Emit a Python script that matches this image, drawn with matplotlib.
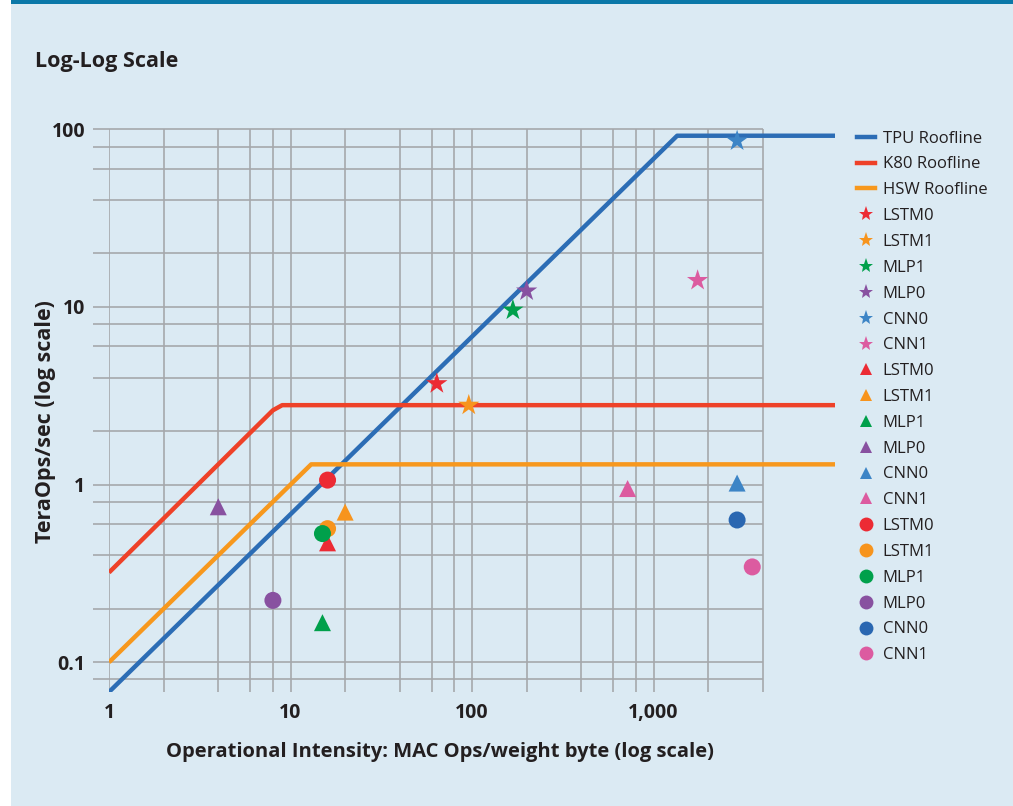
import matplotlib.pyplot as plt
from matplotlib.lines import Line2D
from matplotlib.patches import Rectangle

plt.rcParams["font.family"] = ["Open Sans", "DejaVu Sans"]

# Roofline models (peak TeraOps/sec vs operational intensity)
tpu_roof_x = [1, 1350, 10000]
tpu_roof_y = [0.068, 92, 92]
k80_roof_x = [1, 8, 9, 10000]
k80_roof_y = [0.32, 2.62, 2.8, 2.8]
hsw_roof_x = [1, 13, 10000]
hsw_roof_y = [0.1, 1.3, 1.3]

# Workloads, in legend order
apps = ["LSTM0", "LSTM1", "MLP1", "MLP0", "CNN0", "CNN1"]

# TPU (stars)
tpu_x = [64, 96, 168, 200, 2888, 1750]
tpu_y = [3.7, 2.8, 9.6, 12.3, 86.0, 14.1]
tpu_colors = ["#ec2b34", "#f7941d", "#00a04b", "#8851a0", "#3d85c6", "#dc5ba0"]

# K80 GPU (triangles)
k80_x = [16, 20, 15, 4, 2888, 720]
k80_y = [0.47, 0.70, 0.167, 0.75, 1.02, 0.95]
k80_colors = ["#ec2b34", "#f7941d", "#00a04b", "#8851a0", "#3d85c6", "#dc5ba0"]

# Haswell CPU (circles)
hsw_x = [16, 16, 15, 8, 2888, 3500]
hsw_y = [1.06, 0.565, 0.53, 0.223, 0.632, 0.344]
hsw_colors = ["#ec2b34", "#f7941d", "#00a04b", "#8851a0", "#2a67b1", "#dc5ba0"]

x_ticks = [1, 10, 100, 1000]
x_tick_labels = ["1", "10", "100", "1,000"]
y_ticks = [0.1, 1, 10, 100]
y_tick_labels = ["0.1", "1", "10", "100"]

bg = "#dbeaf3"
grid_c = "#a5a8ab"
ink = "#231f20"

fig = plt.figure(figsize=(10.13, 8.06), dpi=100)
fig.patch.set_facecolor("white")
fig.patches.append(Rectangle((11 / 1013, 0), 1 - 11 / 1013, 1, transform=fig.transFigure,
                             facecolor=bg, edgecolor="none", zorder=-10))
fig.patches.append(Rectangle((11 / 1013, 1 - 4 / 806), 1 - 11 / 1013, 4 / 806,
                             transform=fig.transFigure, facecolor="#0a78a8",
                             edgecolor="none", zorder=-9))

ax = fig.add_axes([109 / 1013, 114 / 806, 726 / 1013, (692 - 129.3) / 806])
ax.set_facecolor("none")
ax.set_xscale("log")
ax.set_yscale("log")
ax.set_xlim(1, 10000)
ax.set_ylim(0.068, 100)
for s in ax.spines.values():
    s.set_visible(False)

# grid only covers 1..4000, horizontal rules poke out to the left
vgrid = [1, 2, 4, 6, 8, 10, 20, 40, 60, 80, 100, 200, 400, 600, 800, 1000, 2000, 4000]
hgrid = [0.08, 0.1, 0.2, 0.4, 0.6, 0.8, 1, 2, 4, 6, 8, 10, 20, 40, 60, 80, 100]
ax.vlines(vgrid, 0.068, 100, color=grid_c, lw=1.2, zorder=1)
ax.hlines(hgrid, 0.815, 4000, color=grid_c, lw=1.2, zorder=1, clip_on=False)

ax.plot(tpu_roof_x, tpu_roof_y, color="#2c6db5", lw=3.2, zorder=3, solid_capstyle="butt")
ax.plot(k80_roof_x, k80_roof_y, color="#ee4128", lw=3.2, zorder=3, solid_capstyle="butt")
ax.plot(hsw_roof_x, hsw_roof_y, color="#f7981d", lw=3.2, zorder=3, solid_capstyle="butt")

ax.scatter(tpu_x, tpu_y, marker="*", s=260, c=tpu_colors, linewidths=0, zorder=4)
ax.scatter(k80_x, k80_y, marker="^", s=150, c=k80_colors, linewidths=0, zorder=4)
ax.scatter(hsw_x, hsw_y, marker="o", s=150, c=hsw_colors, linewidths=0, zorder=4)

ax.set_xticks(x_ticks)
ax.set_xticklabels(x_tick_labels)
ax.set_yticks(y_ticks)
ax.set_yticklabels(y_tick_labels)
ax.minorticks_off()
ax.tick_params(length=0, labelsize=14, colors=ink)
ax.tick_params(axis="x", pad=8)
ax.tick_params(axis="y", pad=17)
for lbl in ax.get_xticklabels() + ax.get_yticklabels():
    lbl.set_fontweight("bold")

ax.set_xlabel("Operational Intensity: MAC Ops/weight byte (log scale)",
              fontsize=14.5, fontweight="bold", color=ink)
ax.set_ylabel("TeraOps/sec (log scale)", fontsize=15.5, fontweight="bold", color=ink)
ax.xaxis.set_label_coords((440 - 109) / 726, -(752 - 692) / 562.7)
ax.yaxis.set_label_coords(-(109 - 45) / 726, (692 - 422) / 562.7)
ax.xaxis.label.set_va("center")
ax.yaxis.label.set_va("center")

fig.text(35 / 1013, 1 - 61 / 806, "Log-Log Scale", fontsize=15.5, fontweight="bold",
         color=ink, va="center", ha="left")

handles = [
    Line2D([], [], color="#2c6db5", lw=3.2),
    Line2D([], [], color="#ee4128", lw=3.2),
    Line2D([], [], color="#f7981d", lw=3.2),
]
labels = ["TPU Roofline", "K80 Roofline", "HSW Roofline"]
for c, a in zip(tpu_colors, apps):
    handles.append(Line2D([], [], ls="none", marker="*", ms=11, color=c, mew=0))
    labels.append(a)
for c, a in zip(k80_colors, apps):
    handles.append(Line2D([], [], ls="none", marker="^", ms=9, color=c, mew=0))
    labels.append(a)
for c, a in zip(hsw_colors, apps):
    handles.append(Line2D([], [], ls="none", marker="o", ms=10, color=c, mew=0))
    labels.append(a)

leg = fig.legend(handles, labels, loc="upper left", bbox_to_anchor=(850 / 1013, 1 - 124 / 806),
                 frameon=False, fontsize=12, handlelength=1.1, handletextpad=0.45,
                 labelspacing=0.59, borderaxespad=0)
for t in leg.get_texts():
    t.set_color(ink)

fig.savefig("out.png", dpi=100, facecolor=fig.get_facecolor())
